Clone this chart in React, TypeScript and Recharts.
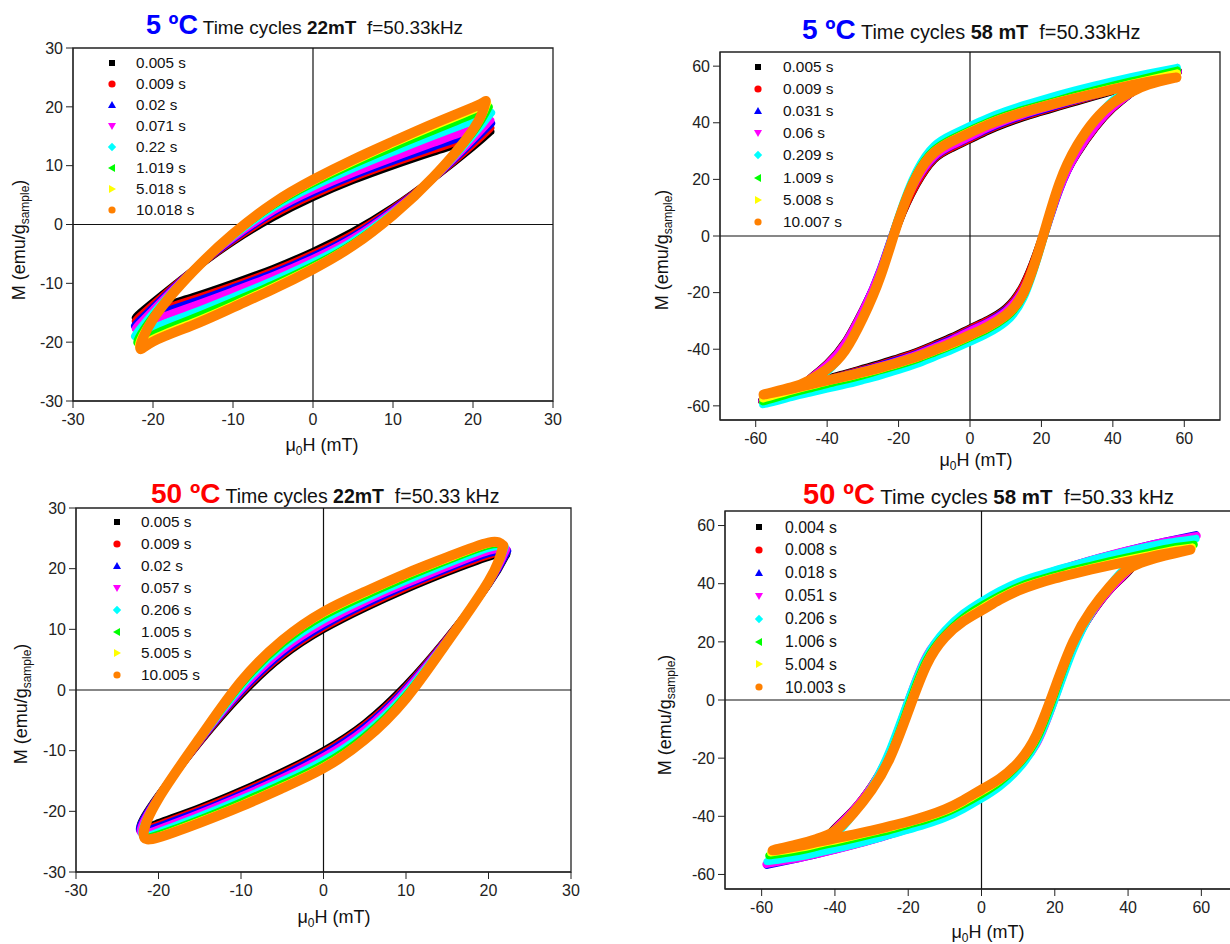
import { ScatterChart, Scatter, XAxis, YAxis, ReferenceLine, ReferenceArea } from 'recharts'

const FONT = '"Liberation Sans", Arial, Helvetica, sans-serif'

// Origin-style series colours and legend symbols, in plot order
const COLORS = ['#000000', '#ff0000', '#0000ff', '#ff00ff', '#00ffff', '#00ff00', '#ffff00', '#ff8000']
const MARKERS = ['square', 'circle', 'up', 'down', 'diamond', 'left', 'right', 'circle']

// field grids (mT) for the read-off branch values
const H22 = [-20, -15, -10, -5, 0, 5, 10, 15, 20]
const H58 = [-50, -45, -40, -35, -30, -25, -20, -15, -10, -5, 0, 5, 10, 15, 20, 25, 30, 35, 40, 45, 50]

// ---- 5 ºC, 22 mT ----
const times5c22 = ['0.005 s', '0.009 s', '0.02 s', '0.071 s', '0.22 s', '1.019 s', '5.018 s', '10.018 s']
// [H right tip, M right tip, H left tip, M left tip]
const tips5c22 = [
  [22.2, 15.8, -22.2, -15.8],
  [22.2, 16.4, -22.2, -16.4],
  [22.3, 17.2, -22.3, -17.2],
  [22.2, 17.7, -22.2, -17.7],
  [22.3, 19.0, -22.3, -19.0],
  [22.0, 20.0, -22.0, -20.0],
  [21.8, 20.6, -21.8, -20.6],
  [21.6, 21.0, -21.6, -21.0],
]
const upper5c22 = [
  [-13.2, -7.8, -2.9, 1.2, 4.6, 7.5, 10.0, 12.3, 14.5],
  [-13.6, -7.8, -2.7, 1.6, 5.0, 7.9, 10.4, 12.7, 15.0],
  [-14.1, -7.8, -2.5, 2.0, 5.4, 8.3, 10.8, 13.2, 15.6],
  [-14.5, -7.8, -2.3, 2.3, 5.8, 8.7, 11.3, 13.8, 16.3],
  [-15.1, -7.8, -2.0, 2.8, 6.4, 9.5, 12.3, 15.0, 17.6],
  [-15.6, -7.9, -1.8, 3.2, 7.0, 10.2, 13.1, 15.9, 18.7],
  [-15.9, -7.9, -1.7, 3.4, 7.3, 10.6, 13.7, 16.6, 19.4],
  [-16.1, -8.0, -1.6, 3.6, 7.6, 11.0, 14.1, 17.1, 19.9],
]
const lower5c22 = [
  [-14.5, -12.3, -10.0, -7.5, -4.6, -1.2, 2.9, 7.8, 13.2],
  [-15.0, -12.7, -10.4, -7.9, -5.0, -1.6, 2.7, 7.8, 13.6],
  [-15.6, -13.2, -10.8, -8.3, -5.4, -2.0, 2.5, 7.8, 14.1],
  [-16.3, -13.8, -11.3, -8.7, -5.8, -2.3, 2.3, 7.8, 14.5],
  [-17.6, -15.0, -12.3, -9.5, -6.4, -2.8, 2.0, 7.8, 15.1],
  [-18.7, -15.9, -13.1, -10.2, -7.0, -3.2, 1.8, 7.9, 15.6],
  [-19.4, -16.6, -13.7, -10.6, -7.3, -3.4, 1.7, 7.9, 15.9],
  [-19.9, -17.1, -14.1, -11.0, -7.6, -3.6, 1.6, 8.0, 16.1],
]

// ---- 5 ºC, 58 mT ----
const times5c58 = ['0.005 s', '0.009 s', '0.031 s', '0.06 s', '0.209 s', '1.009 s', '5.008 s', '10.007 s']
const tips5c58 = [
  [58.3, 58.3, -58.3, -58.3],
  [58.3, 58.0, -58.3, -58.0],
  [58.2, 58.0, -58.2, -58.0],
  [58.2, 58.2, -58.2, -58.2],
  [58.0, 59.5, -58.0, -59.5],
  [58.0, 58.5, -58.0, -58.5],
  [58.0, 57.5, -58.0, -57.5],
  [57.8, 56.0, -57.8, -56.0],
]
const upper5c58 = [
  [-54.5, -50.5, -45.0, -37.5, -26.0, -12.5, 4.5, 18.0, 27.0, 31.0, 34.0, 37.1, 39.7, 41.9, 43.8, 45.7, 47.5, 49.3, 51.2, 53.2, 55.0],
  [-54.3, -50.5, -45.2, -37.7, -26.2, -12.4, 4.7, 18.3, 27.3, 31.3, 34.3, 37.4, 40.0, 42.2, 44.1, 46.0, 47.8, 49.6, 51.4, 53.2, 55.0],
  [-54.2, -50.6, -45.5, -38.0, -26.4, -11.5, 6.5, 19.5, 27.7, 31.8, 34.8, 37.8, 40.4, 42.6, 44.5, 46.3, 48.1, 49.8, 51.5, 53.3, 55.0],
  [-54.3, -50.6, -45.4, -37.9, -26.3, -11.7, 6.1, 19.5, 28.0, 32.0, 35.0, 38.1, 40.7, 42.9, 44.8, 46.6, 48.3, 50.0, 51.7, 53.5, 55.1],
  [-56.0, -52.8, -48.0, -40.5, -28.5, -13.0, 7.0, 23.0, 32.0, 36.0, 39.0, 41.8, 44.2, 46.3, 48.2, 50.0, 51.7, 53.3, 54.8, 56.2, 57.5],
  [-54.5, -51.8, -47.5, -40.5, -29.0, -13.5, 6.5, 22.0, 30.5, 34.5, 37.5, 40.3, 42.7, 44.7, 46.5, 48.2, 50.0, 51.6, 53.2, 54.7, 56.1],
  [-54.0, -51.3, -47.0, -40.5, -29.0, -14.0, 6.0, 21.5, 30.0, 34.0, 37.0, 39.8, 42.2, 44.2, 46.0, 47.7, 49.3, 50.8, 52.3, 53.8, 55.2],
  [-53.5, -51.0, -47.0, -40.5, -29.0, -14.0, 5.5, 21.0, 29.5, 33.5, 36.5, 39.3, 41.7, 43.7, 45.5, 47.2, 48.8, 50.3, 51.8, 53.2, 54.5],
]
const lower5c58 = [
  [-54.5, -52.5, -50.4, -48.6, -46.8, -45.0, -43.0, -40.9, -38.3, -35.6, -32.5, -29.5, -25.5, -17.0, -1.0, 17.0, 29.0, 38.0, 45.0, 50.3, 54.5],
  [-54.5, -52.5, -50.6, -48.9, -47.1, -45.3, -43.3, -41.2, -38.6, -35.9, -32.8, -29.8, -25.8, -17.3, -1.2, 16.9, 29.2, 38.2, 45.2, 50.3, 54.3],
  [-54.5, -52.6, -50.7, -49.1, -47.4, -45.6, -43.7, -41.6, -39.0, -36.3, -33.3, -30.3, -26.2, -18.5, -3.0, 16.0, 29.4, 38.5, 45.5, 50.4, 54.2],
  [-54.6, -52.8, -50.9, -49.3, -47.6, -45.9, -44.0, -41.9, -39.3, -36.6, -33.5, -30.5, -26.5, -18.5, -2.6, 16.2, 29.3, 38.4, 45.4, 50.4, 54.3],
  [-57.0, -55.5, -54.0, -52.6, -51.0, -49.3, -47.4, -45.3, -42.8, -40.3, -37.5, -34.5, -30.5, -22.0, -3.5, 17.5, 31.5, 41.0, 48.0, 52.6, 56.0],
  [-55.6, -54.0, -52.4, -50.9, -49.3, -47.5, -45.7, -43.7, -41.3, -38.8, -36.0, -33.0, -29.0, -21.0, -3.0, 18.0, 32.0, 41.0, 47.5, 51.6, 54.5],
  [-54.7, -53.1, -51.5, -50.1, -48.6, -47.0, -45.2, -43.2, -40.8, -38.3, -35.5, -32.5, -28.5, -20.5, -2.5, 18.5, 32.0, 41.0, 47.0, 51.1, 54.0],
  [-54.0, -52.5, -51.0, -49.6, -48.1, -46.5, -44.7, -42.7, -40.3, -37.8, -35.0, -32.0, -28.0, -20.0, -2.0, 18.5, 32.0, 41.0, 47.0, 50.8, 53.5],
]

// ---- 50 ºC, 22 mT ----
const times50c22 = ['0.005 s', '0.009 s', '0.02 s', '0.057 s', '0.206 s', '1.005 s', '5.005 s', '10.005 s']
const tips50c22 = [
  [22.2, 22.4, -22.2, -22.4],
  [22.2, 22.7, -22.2, -22.7],
  [22.3, 22.9, -22.3, -22.9],
  [22.2, 23.2, -22.2, -23.2],
  [22.0, 23.6, -22.0, -23.6],
  [21.9, 23.7, -21.9, -23.7],
  [21.8, 23.8, -21.8, -23.8],
  [21.8, 23.8, -21.8, -23.8],
]
const upper50c22 = [
  [-17.4, -8.6, -0.8, 5.5, 10.0, 13.5, 16.6, 19.4, 21.9],
  [-17.5, -8.5, -0.5, 5.8, 10.3, 13.8, 16.9, 19.7, 22.2],
  [-17.5, -8.4, -0.3, 6.1, 10.6, 14.1, 17.2, 20.0, 22.5],
  [-17.6, -8.3, 0.0, 6.5, 11.0, 14.5, 17.5, 20.3, 22.9],
  [-17.7, -8.2, 0.5, 7.1, 11.6, 15.0, 18.0, 20.8, 23.4],
  [-17.8, -8.1, 0.9, 7.6, 12.2, 15.5, 18.5, 21.3, 23.8],
  [-17.9, -8.0, 1.2, 8.0, 12.6, 15.9, 18.9, 21.6, 24.1],
  [-17.9, -7.9, 1.4, 8.2, 12.9, 16.2, 19.2, 21.9, 24.3],
]
const lower50c22 = [
  [-21.9, -19.4, -16.6, -13.5, -10.0, -5.5, 0.8, 8.6, 17.4],
  [-22.2, -19.7, -16.9, -13.8, -10.3, -5.8, 0.5, 8.5, 17.5],
  [-22.5, -20.0, -17.2, -14.1, -10.6, -6.1, 0.3, 8.4, 17.5],
  [-22.9, -20.3, -17.5, -14.5, -11.0, -6.5, 0.0, 8.3, 17.6],
  [-23.4, -20.8, -18.0, -15.0, -11.6, -7.1, -0.5, 8.2, 17.7],
  [-23.8, -21.3, -18.5, -15.5, -12.2, -7.6, -0.9, 8.1, 17.8],
  [-24.1, -21.6, -18.9, -15.9, -12.6, -8.0, -1.2, 8.0, 17.9],
  [-24.3, -21.9, -19.2, -16.2, -12.9, -8.2, -1.4, 7.9, 17.9],
]

// ---- 50 ºC, 58 mT ----
const times50c58 = ['0.004 s', '0.008 s', '0.018 s', '0.051 s', '0.206 s', '1.006 s', '5.004 s', '10.003 s']
const tips50c58 = [
  [58.5, 56.5, -58.5, -56.5],
  [58.5, 56.5, -58.5, -56.5],
  [58.5, 56.8, -58.5, -56.8],
  [58.8, 56.5, -58.8, -56.5],
  [58.5, 55.5, -58.5, -55.5],
  [58.0, 53.5, -58.0, -53.5],
  [57.5, 52.5, -57.5, -52.5],
  [57.0, 51.7, -57.0, -51.7],
]
const upper50c58 = [
  [-54.0, -50.8, -44.0, -37.7, -29.5, -18.1, -1.0, 14.5, 22.5, 28.0, 32.0, 36.0, 39.5, 42.0, 44.0, 46.0, 48.0, 49.7, 51.3, 52.9, 54.3],
  [-54.0, -50.8, -44.2, -37.8, -29.6, -18.2, -1.1, 14.5, 22.6, 28.1, 32.2, 36.1, 39.6, 42.1, 44.1, 46.1, 48.0, 49.7, 51.3, 52.9, 54.3],
  [-54.3, -51.1, -44.5, -38.0, -29.8, -17.9, -0.9, 14.8, 22.8, 28.4, 32.5, 36.4, 39.8, 42.3, 44.3, 46.3, 48.2, 49.9, 51.5, 53.1, 54.5],
  [-54.3, -51.0, -44.3, -37.8, -29.6, -17.6, -0.2, 15.3, 23.2, 28.8, 33.0, 36.8, 40.0, 42.5, 44.5, 46.4, 48.3, 50.0, 51.6, 53.1, 54.5],
  [-53.5, -50.8, -46.5, -39.5, -30.0, -17.0, 0.0, 15.0, 24.0, 29.8, 34.0, 37.6, 40.6, 42.8, 44.7, 46.4, 48.2, 49.8, 51.3, 52.7, 54.0],
  [-52.0, -49.3, -45.5, -39.2, -30.7, -19.1, -2.0, 13.8, 22.5, 28.3, 32.5, 36.0, 39.0, 41.2, 43.0, 44.8, 46.3, 47.8, 49.2, 50.6, 52.0],
  [-51.0, -48.6, -45.2, -39.1, -30.8, -19.6, -3.0, 12.9, 22.0, 27.6, 31.6, 35.2, 38.3, 40.5, 42.3, 44.0, 45.5, 47.0, 48.4, 49.7, 51.0],
  [-49.6, -47.8, -45.0, -39.0, -31.0, -20.0, -4.0, 12.0, 21.5, 27.0, 30.8, 34.5, 37.6, 39.9, 41.8, 43.4, 44.9, 46.3, 47.6, 48.9, 50.2],
]
const lower50c58 = [
  [-54.3, -52.9, -51.3, -49.7, -48.0, -46.0, -44.0, -42.0, -39.5, -36.0, -32.0, -28.0, -22.5, -14.5, 1.0, 18.1, 29.5, 37.7, 44.0, 50.8, 54.0],
  [-54.3, -52.9, -51.3, -49.7, -48.0, -46.1, -44.1, -42.1, -39.6, -36.1, -32.2, -28.1, -22.6, -14.5, 1.1, 18.2, 29.6, 37.8, 44.2, 50.8, 54.0],
  [-54.5, -53.1, -51.5, -49.9, -48.2, -46.3, -44.3, -42.3, -39.8, -36.4, -32.5, -28.4, -22.8, -14.8, 0.9, 17.9, 29.8, 38.0, 44.5, 51.1, 54.3],
  [-54.5, -53.1, -51.6, -50.0, -48.3, -46.4, -44.5, -42.5, -40.0, -36.8, -33.0, -28.8, -23.2, -15.3, 0.2, 17.6, 29.6, 37.8, 44.3, 51.0, 54.3],
  [-54.0, -52.7, -51.3, -49.8, -48.2, -46.4, -44.7, -42.8, -40.6, -37.6, -34.0, -29.8, -24.0, -15.0, 0.0, 17.0, 30.0, 39.5, 46.5, 50.8, 53.5],
  [-52.0, -50.6, -49.2, -47.8, -46.3, -44.8, -43.0, -41.2, -39.0, -36.0, -32.5, -28.3, -22.5, -13.8, 2.0, 19.1, 30.7, 39.2, 45.5, 49.3, 52.0],
  [-51.0, -49.7, -48.4, -47.0, -45.5, -44.0, -42.3, -40.5, -38.3, -35.2, -31.6, -27.6, -22.0, -12.9, 3.0, 19.6, 30.8, 39.1, 45.2, 48.6, 51.0],
  [-50.2, -48.9, -47.6, -46.3, -44.9, -43.4, -41.8, -39.9, -37.6, -34.5, -30.8, -27.0, -21.5, -12.0, 4.0, 20.0, 31.0, 39.0, 45.0, 47.8, 49.6],
]

// axis ticks
const ticks30 = [-30, -20, -10, 0, 10, 20, 30]
const minor30 = [-25, -15, -5, 5, 15, 25]
const ticks60 = [-60, -40, -20, 0, 20, 40, 60]
const minor70 = [-70, -50, -30, -10, 10, 30, 50, 70]
const minor65 = [-50, -30, -10, 10, 30, 50]

// walk the loop: right tip -> upper branch (field going down) -> left tip -> lower branch -> right tip
function buildLoop(grid: number[], upper: number[], lower: number[], tip: number[]) {
  const pts = [{ h: tip[0], m: tip[1] }]
  for (let i = grid.length - 1; i >= 0; i--) pts.push({ h: grid[i], m: upper[i] })
  pts.push({ h: tip[2], m: tip[3] })
  for (let i = 0; i < grid.length; i++) pts.push({ h: grid[i], m: lower[i] })
  pts.push({ h: tip[0], m: tip[1] })
  return pts
}

const noPoint = () => <g />

const panels = [
  {
    times: times5c22, grid: H22, tips: tips5c22, upper: upper5c22, lower: lower5c22,
    xDomain: [-30, 30], yDomain: [-30, 30], xTicks: ticks30, xMinor: minor30, yTicks: ticks30, yMinor: minor30,
    plot: { left: 73, top: 48, w: 480, h: 353 },
    title: { temp: '5 ºC', color: '#0000ff', field: '22mT', freq: 'f=50.33kHz', x: 146, base: 35, big: 27, small: 18.9 },
    legend: { mx: 112, tx: 136, y0: 62.5, dy: 21.1, fs: 15.2 },
    yLabel: { cx: 18.5, cy: 240 }, xLabel: { cx: 322, base: 451 },
  },
  {
    times: times5c58, grid: H58, tips: tips5c58, upper: upper5c58, lower: lower5c58,
    xDomain: [-70, 70], yDomain: [-65, 65], xTicks: ticks60, xMinor: minor70, yTicks: ticks60, yMinor: minor65,
    plot: { left: 720, top: 52, w: 500, h: 368 },
    title: { temp: '5 ºC', color: '#0000ff', field: '58 mT', freq: 'f=50.33kHz', x: 802, base: 39.5, big: 28, small: 19.9 },
    legend: { mx: 758, tx: 783, y0: 67, dy: 22.1, fs: 15.4 },
    yLabel: { cx: 662, cy: 250 }, xLabel: { cx: 976, base: 466 },
  },
  {
    times: times50c22, grid: H22, tips: tips50c22, upper: upper50c22, lower: lower50c22,
    xDomain: [-30, 30], yDomain: [-30, 30], xTicks: ticks30, xMinor: minor30, yTicks: ticks30, yMinor: minor30,
    plot: { left: 76, top: 508, w: 495, h: 364 },
    title: { temp: '50 ºC', color: '#ff0000', field: '22mT', freq: 'f=50.33 kHz', x: 151, base: 503.5, big: 28, small: 19.5 },
    legend: { mx: 117, tx: 141, y0: 522, dy: 21.9, fs: 15.4 },
    yLabel: { cx: 21, cy: 704 }, xLabel: { cx: 334, base: 923 },
  },
  {
    times: times50c58, grid: H58, tips: tips50c58, upper: upper50c58, lower: lower50c58,
    xDomain: [-70, 70], yDomain: [-65, 65], xTicks: ticks60, xMinor: minor70, yTicks: ticks60, yMinor: minor65,
    plot: { left: 725, top: 511, w: 513, h: 378 },
    title: { temp: '50 ºC', color: '#ff0000', field: '58 mT', freq: 'f=50.33 kHz', x: 803, base: 505, big: 29, small: 20.5 },
    legend: { mx: 759, tx: 785, y0: 527, dy: 22.9, fs: 15.8 },
    yLabel: { cx: 665, cy: 715 }, xLabel: { cx: 988, base: 938 },
  },
]

function Marker({ kind, color, cx, cy }: { kind: string; color: string; cx: number; cy: number }) {
  let el
  if (kind === 'square') el = <rect x={-3} y={-3} width={6} height={6} fill={color} />
  else if (kind === 'circle') el = <circle r={3.6} fill={color} />
  else if (kind === 'up') el = <polygon points="0,-4 4,3 -4,3" fill={color} />
  else if (kind === 'down') el = <polygon points="0,4 4,-3 -4,-3" fill={color} />
  else if (kind === 'diamond') el = <polygon points="0,-4.2 4.2,0 0,4.2 -4.2,0" fill={color} />
  else if (kind === 'left') el = <polygon points="-4,0 3,-4 3,4" fill={color} />
  else el = <polygon points="4,0 -3,-4 -3,4" fill={color} />
  return (
    <svg width={10} height={10} viewBox="-5 -5 10 10" style={{ position: 'absolute', left: cx - 5, top: cy - 5 }}>
      {el}
    </svg>
  )
}

function LoopChart({ p }: { p: any }) {
  const ML = 60
  const MT = 10
  const MR = 10
  const XH = 40
  const { plot } = p
  const tickStyle = { fill: '#222', fontSize: 16, fontFamily: FONT }
  return (
    <div style={{ position: 'absolute', left: plot.left - ML, top: plot.top - MT }}>
      <ScatterChart width={plot.w + ML + MR} height={plot.h + MT + XH} margin={{ top: MT, right: MR, bottom: 0, left: 0 }}>
        <XAxis xAxisId="minor" type="number" dataKey="h" domain={p.xDomain} ticks={p.xMinor} allowDataOverflow
          height={0} tick={false} tickSize={4} axisLine={false} stroke="#222" />
        <YAxis yAxisId="minor" type="number" dataKey="m" domain={p.yDomain} ticks={p.yMinor} allowDataOverflow
          width={0} tick={false} tickSize={4} axisLine={false} stroke="#222" />
        <XAxis xAxisId="main" type="number" dataKey="h" domain={p.xDomain} ticks={p.xTicks} allowDataOverflow
          height={XH} tickSize={7} tickMargin={6} tick={tickStyle} stroke="#222" />
        <YAxis yAxisId="main" type="number" dataKey="m" domain={p.yDomain} ticks={p.yTicks} allowDataOverflow
          width={ML} tickSize={7} tickMargin={3} tick={tickStyle} stroke="#222" />
        <ReferenceLine xAxisId="main" yAxisId="main" x={0} stroke="#111" strokeWidth={1.2} />
        <ReferenceLine xAxisId="main" yAxisId="main" y={0} stroke="#111" strokeWidth={1.2} />
        {p.times.map((t: string, i: number) => (
          <Scatter
            key={t}
            name={t}
            xAxisId="main"
            yAxisId="main"
            data={buildLoop(p.grid, p.upper[i], p.lower[i], p.tips[i])}
            fill={COLORS[i]}
            line={{ stroke: COLORS[i], strokeWidth: i === 7 ? 10 : 7.5, strokeLinejoin: 'round', strokeLinecap: 'round' }}
            lineType="joint"
            lineJointType="natural"
            shape={noPoint}
            isAnimationActive={false}
          />
        ))}
        <ReferenceArea xAxisId="main" yAxisId="main" x1={p.xDomain[0]} x2={p.xDomain[1]} y1={p.yDomain[0]} y2={p.yDomain[1]}
          fill="none" fillOpacity={0} stroke="#222" strokeWidth={1.3} />
      </ScatterChart>
    </div>
  )
}

function PanelText({ p }: { p: any }) {
  const t = p.title
  const lg = p.legend
  const lh = Math.round(lg.fs * 1.2)
  return (
    <>
      <div style={{ position: 'absolute', left: t.x, top: t.base - 0.8465 * t.big, whiteSpace: 'pre', lineHeight: 1, color: '#111' }}>
        <span style={{ color: t.color, fontWeight: 700, fontSize: t.big }}>{t.temp}</span>
        <span style={{ fontSize: t.small }}> Time cycles </span>
        <span style={{ fontSize: t.small, fontWeight: 700 }}>{t.field}</span>
        <span style={{ fontSize: t.small }}>{'  ' + t.freq}</span>
      </div>
      {p.times.map((name: string, i: number) => (
        <div key={name}>
          <Marker kind={MARKERS[i]} color={COLORS[i]} cx={lg.mx} cy={lg.y0 + i * lg.dy} />
          <div style={{ position: 'absolute', left: lg.tx, top: lg.y0 + i * lg.dy - lh / 2, fontSize: lg.fs, lineHeight: lh + 'px', color: '#111', whiteSpace: 'nowrap' }}>
            {name}
          </div>
        </div>
      ))}
      <div style={{
        position: 'absolute', left: p.yLabel.cx, top: p.yLabel.cy, transform: 'translate(-50%, -50%) rotate(-90deg)',
        whiteSpace: 'nowrap', fontSize: 18, lineHeight: 1, color: '#111',
      }}>
        M (emu/g<span style={{ fontSize: 12, position: 'relative', top: 4 }}>sample</span>)
      </div>
      <div style={{
        position: 'absolute', left: p.xLabel.cx, top: p.xLabel.base - 0.8465 * 18, transform: 'translateX(-50%)',
        whiteSpace: 'nowrap', fontSize: 18, lineHeight: 1, color: '#111',
      }}>
        μ<span style={{ fontSize: 12, position: 'relative', top: 4 }}>0</span>H (mT)
      </div>
    </>
  )
}

export default function App() {
  return (
    <div style={{ position: 'fixed', left: 0, top: 0, width: 1230, height: 944, overflow: 'hidden', background: '#fff', fontFamily: FONT }}>
      {panels.map((p, i) => (
        <div key={i}>
          <LoopChart p={p} />
          <PanelText p={p} />
        </div>
      ))}
    </div>
  )
}
